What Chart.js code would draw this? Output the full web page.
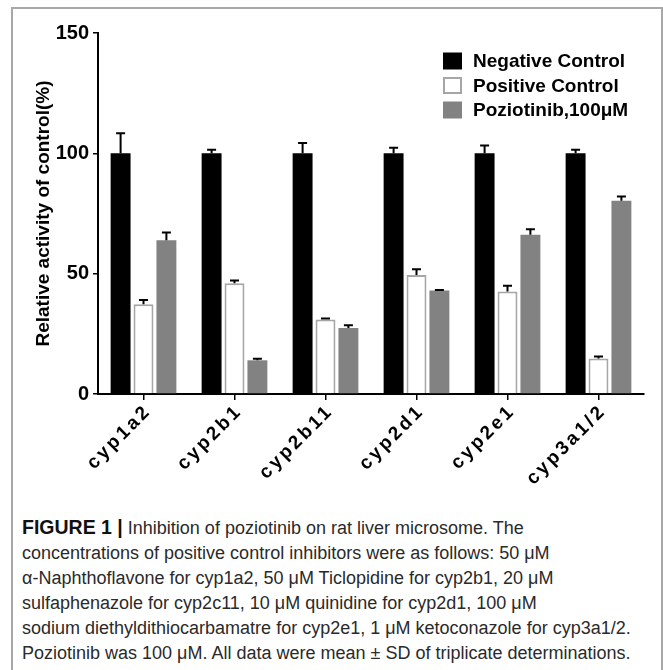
<!DOCTYPE html>
<html>
<head>
<meta charset="utf-8">
<script src="https://cdn.jsdelivr.net/npm/chart.js@4.4.1/dist/chart.umd.min.js"></script>
<style>
  body { margin: 0; background: #fff; }
  .frame { position: absolute; left: 11px; top: 7px; width: 648px; height: 700px; border: 2px solid #a8a8a8; }
  #chart { position: absolute; left: 0; top: 0; }
  .caption { position: absolute; left: 22px; top: 515px; font-family: "Liberation Sans", Arial, sans-serif;
    font-size: 18px; line-height: 25px; color: #2a2a2a; white-space: nowrap; }
  .caption b { color: #111; font-size: 19.5px; }
</style>
</head>
<body>
<div class="frame"></div>
<canvas id="chart" width="663" height="500"></canvas>
<div class="caption">
  <b>FIGURE 1 |</b> Inhibition of poziotinib on rat liver microsome. The<br>
  concentrations of positive control inhibitors were as follows: 50 μM<br>
  α-Naphthoflavone for cyp1a2, 50 μM Ticlopidine for cyp2b1, 20 μM<br>
  sulfaphenazole for cyp2c11, 10 μM quinidine for cyp2d1, 100 μM<br>
  sodium diethyldithiocarbamatre for cyp2e1, 1 μM ketoconazole for cyp3a1/2.<br>
  Poziotinib was 100 μM. All data were mean ± SD of triplicate determinations.
</div>
<script>
// data
const enzymes = ['cyp1a2', 'cyp2b1', 'cyp2b11', 'cyp2d1', 'cyp2e1', 'cyp3a1/2'];
const negative = [100, 100, 100, 100, 100, 100];
const negativeSD = [8.3, 1.5, 4.3, 2.3, 3.3, 1.5];
const positive = [37.3, 46, 31, 49.4, 42.6, 14.7];
const positiveSD = [1.8, 1.2, 0.4, 2.4, 2.4, 0.9];
const poziotinib = [63.9, 14, 27.4, 43, 66.2, 80.3];
const poziotinibSD = [3.2, 0.6, 1.2, 0.2, 2.3, 1.8];
const yTicks = [0, 50, 100, 150];

const fontFam = '"Liberation Sans", Arial, sans-serif';
Chart.defaults.font.family = fontFam;
Chart.defaults.color = '#000';

const errorBars = {
  id: 'errorBars',
  beforeDraw(chart) {
    chart.ctx.letterSpacing = '0px';
  },
  afterDatasetsDraw(chart) {
    const ctx = chart.ctx;
    const y = chart.scales.y;
    ctx.save();
    ctx.strokeStyle = '#000';
    ctx.lineWidth = 2;
    chart.data.datasets.forEach((ds, i) => {
      const meta = chart.getDatasetMeta(i);
      meta.data.forEach((bar, j) => {
        const top = y.getPixelForValue(ds.data[j] + ds.sd[j]);
        ctx.beginPath();
        ctx.moveTo(bar.x, bar.y);
        ctx.lineTo(bar.x, top);
        ctx.moveTo(bar.x - 4.5, top);
        ctx.lineTo(bar.x + 4.5, top);
        ctx.stroke();
      });
    });
    ctx.restore();
    // spaced letters for the category labels drawn after this
    ctx.letterSpacing = '3px';
  },
  afterDraw(chart) {
    const ctx = chart.ctx;
    ctx.letterSpacing = '0px';
    ctx.save();
    ctx.font = 'bold 19px ' + fontFam;
    ctx.textBaseline = 'middle';
    chart.data.datasets.forEach((ds, i) => {
      const cy = 61 + i * 24.5;
      ctx.fillStyle = ds.backgroundColor;
      ctx.fillRect(443, cy - 8.5, 19, 17);
      if (ds.borderWidth) {
        ctx.strokeStyle = ds.borderColor;
        ctx.lineWidth = 2;
        ctx.strokeRect(444, cy - 7.5, 17, 15);
      }
      ctx.fillStyle = '#000';
      ctx.fillText(ds.label, 473, cy + 1);
    });
    ctx.restore();
  }
};

new Chart(document.getElementById('chart'), {
  type: 'bar',
  data: {
    labels: enzymes,
    datasets: [
      { label: 'Negative Control', data: negative, sd: negativeSD, backgroundColor: '#000', borderWidth: 0 },
      { label: 'Positive Control', data: positive, sd: positiveSD, backgroundColor: '#fff', borderColor: '#a6a6a6', borderWidth: 2 },
      { label: 'Poziotinib,100μM', data: poziotinib, sd: poziotinibSD, backgroundColor: '#828282', borderWidth: 0 }
    ]
  },
  options: {
    responsive: false,
    animation: false,
    devicePixelRatio: 1,
    categoryPercentage: 0.755,
    barPercentage: 0.87,
    layout: { padding: { left: 0, top: 33, right: 19, bottom: 0 } },
    plugins: { legend: { display: false }, tooltip: { enabled: false } },
    scales: {
      x: {
        afterFit(scale) { scale.height = 106; },
        grid: { drawOnChartArea: false, offset: false, tickLength: 6, color: '#000', lineWidth: 1.5 },
        border: { color: '#000', width: 2 },
        ticks: { z: 1, minRotation: 45, maxRotation: 45, padding: 0, labelOffset: 5, font: { size: 19, weight: 'bold' } }
      },
      y: {
        min: 0,
        max: 150,
        afterFit(scale) { scale.width = 98; },
        afterBuildTicks(scale) { scale.ticks = yTicks.map(v => ({ value: v })); },
        grid: { drawOnChartArea: false, tickLength: 5, color: '#000', lineWidth: 1.5 },
        border: { color: '#000', width: 2 },
        ticks: { padding: 4, font: { size: 20, weight: 'bold' } },
        title: { display: true, text: 'Relative activity of control(%)', font: { size: 19, weight: 'bold' }, padding: { top: 32, bottom: 0 } }
      }
    }
  },
  plugins: [errorBars]
});
</script>
</body>
</html>
